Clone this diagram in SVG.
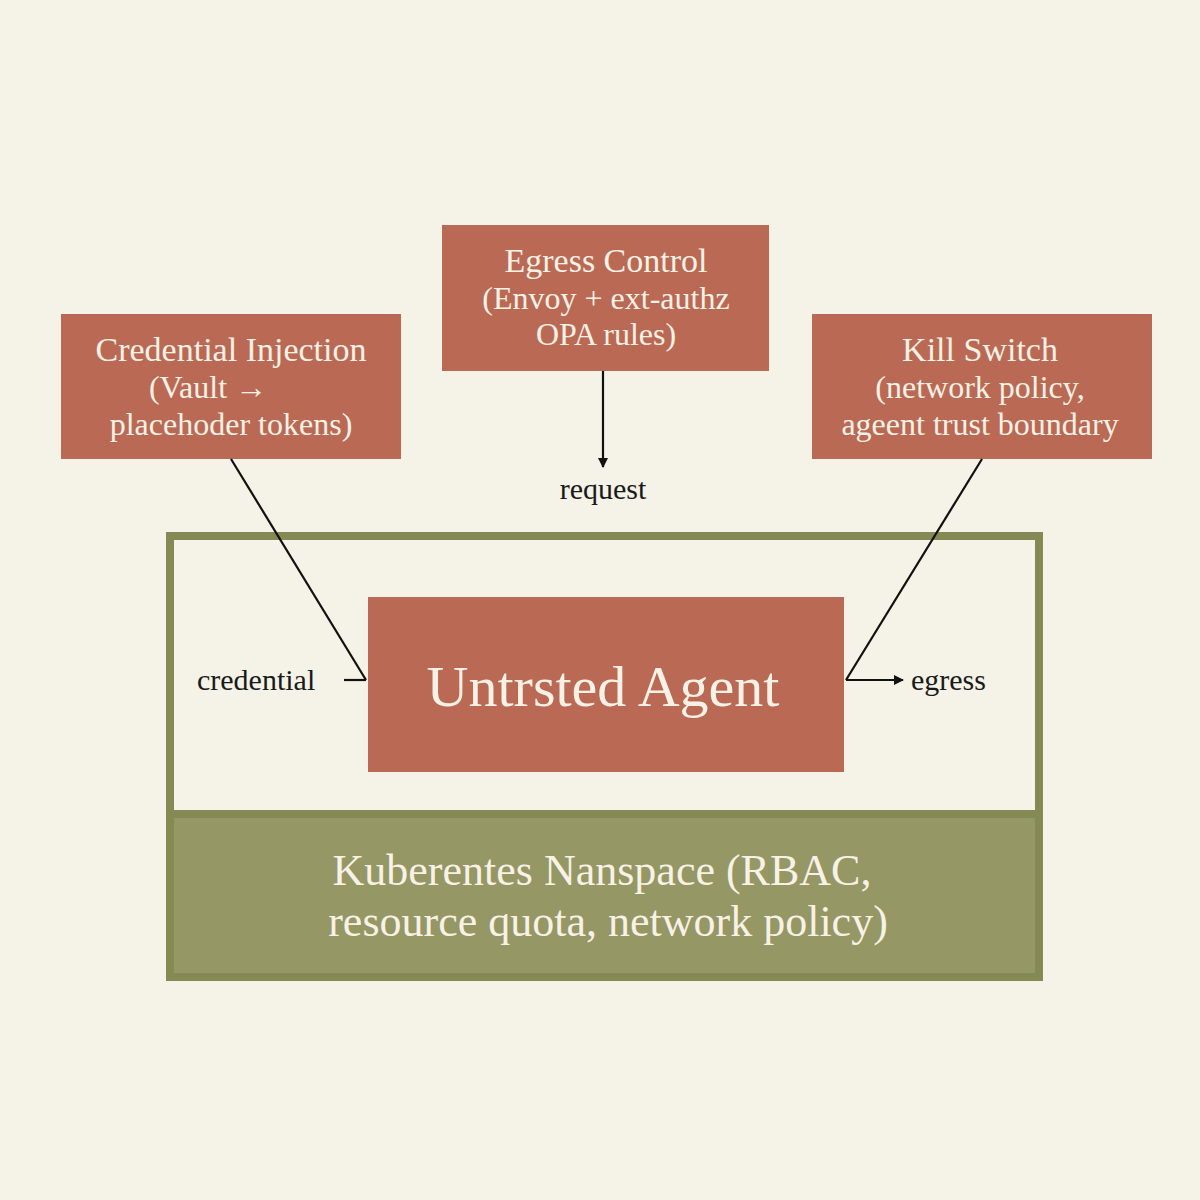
<svg xmlns="http://www.w3.org/2000/svg" width="1200" height="1200" viewBox="0 0 1200 1200">
<defs>
<style>
.box{fill:#ba6a54}
.wt{fill:#f8f1e6;font-family:"Liberation Serif",serif;text-anchor:middle}
.bt{fill:#1a1a1a;font-family:"Liberation Serif",serif;font-size:30px}
.ln{stroke:#111;stroke-width:2.2;fill:none}
</style>
<marker id="ah" markerWidth="10" markerHeight="10" refX="9" refY="5" orient="auto" markerUnits="userSpaceOnUse"><path d="M0,0 L10,5 L0,10 z" fill="#111"/></marker>
</defs>
<rect width="1200" height="1200" fill="#f5f2e7"/>
<g id="namespace">
<rect x="170" y="814" width="869" height="163" fill="#959764"/>
<rect x="170" y="536" width="869" height="441" fill="none" stroke="#858a55" stroke-width="8"/>
<line x1="170" y1="814" x2="1039" y2="814" stroke="#858a55" stroke-width="8"/>
<text class="wt" x="602" y="885" font-size="44">Kuberentes Nanspace (RBAC,</text>
<text class="wt" x="608" y="936" font-size="44">resource quota, network policy)</text>
</g>
<g id="agent">
<rect class="box" x="368" y="597" width="476" height="175"/>
<text class="wt" x="603" y="706" font-size="58">Untrsted Agent</text>
</g>
<g id="credential-injection">
<rect class="box" x="61" y="314" width="340" height="145"/>
<text class="wt" x="231" y="361" font-size="34">Credential Injection</text>
<text class="wt" x="208" y="398" font-size="32">(Vault →</text>
<text class="wt" x="231" y="435" font-size="32">placehoder tokens)</text>
</g>
<g id="egress-control">
<rect class="box" x="442" y="225" width="327" height="146"/>
<text class="wt" x="606" y="272" font-size="34">Egress Control</text>
<text class="wt" x="606" y="309" font-size="32">(Envoy + ext-authz</text>
<text class="wt" x="606" y="345" font-size="32">OPA rules)</text>
</g>
<g id="kill-switch">
<rect class="box" x="812" y="314" width="340" height="145"/>
<text class="wt" x="980" y="361" font-size="34">Kill Switch</text>
<text class="wt" x="980" y="398" font-size="32">(network policy,</text>
<text class="wt" x="980" y="435" font-size="32">ageent trust boundary</text>
</g>
<g id="connectors">
<line class="ln" x1="603" y1="371" x2="603" y2="467" marker-end="url(#ah)"/>
<line class="ln" x1="231" y1="459" x2="366" y2="680"/>
<line class="ln" x1="344" y1="680" x2="366" y2="680"/>
<line class="ln" x1="982" y1="459" x2="846" y2="680"/>
<line class="ln" x1="846" y1="680" x2="903" y2="680" marker-end="url(#ah)"/>
<text class="bt" x="603" y="499" text-anchor="middle">request</text>
<text class="bt" x="197" y="690">credential</text>
<text class="bt" x="911" y="690">egress</text>
</g>
</svg>
